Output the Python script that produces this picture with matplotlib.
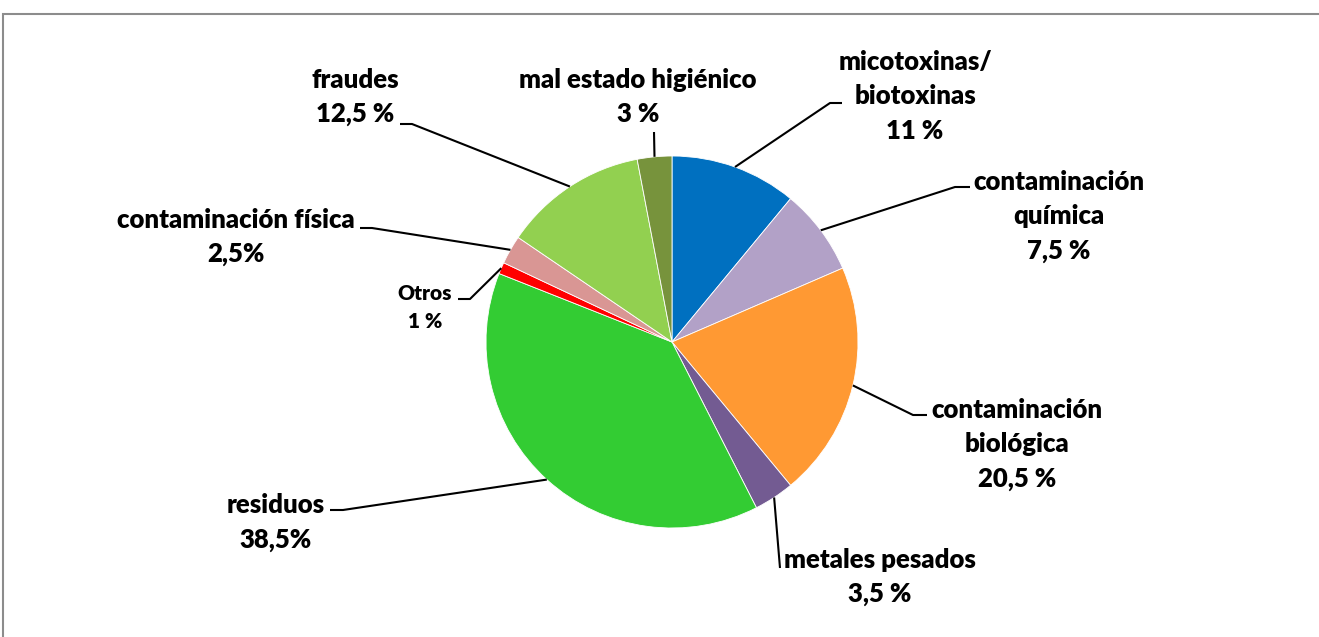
import numpy as np
import matplotlib.pyplot as plt
from matplotlib.patches import Rectangle

# Datos del gráfico (porcentajes, en sentido horario desde arriba)
categorias = ['micotoxinas/\nbiotoxinas', 'contaminación\nquímica', 'contaminación\nbiológica',
              'metales pesados', 'residuos', 'Otros', 'contaminación física',
              'fraudes', 'mal estado higiénico']
valores = [11, 7.5, 20.5, 3.5, 38.5, 1, 2.5, 12.5, 3]
etiquetas_pct = ['11 %', '7,5 %', '20,5 %', '3,5 %', '38,5%', '1 %', '2,5%', '12,5 %', '3 %']
colores = ['#0070C0', '#B2A1C7', '#FF9933', '#735B92', '#33CC33',
           '#FF0000', '#D99694', '#92D050', '#77933C']

W, H = 1319, 637
fig = plt.figure(figsize=(W / 100, H / 100), dpi=100)
ax = fig.add_axes([0, 0, 1, 1])

def py(y):
    # coordenadas de pixel (y hacia abajo) -> datos (y hacia arriba)
    return H - y

cx, cy, r = 672, py(342), 186
wedges, _ = ax.pie(valores, colors=colores, startangle=90, counterclock=False,
                   center=(cx, cy), radius=r,
                   wedgeprops=dict(linewidth=0.6, edgecolor='white'))
ax.set_xlim(0, W)
ax.set_ylim(0, H)
ax.set_aspect('auto')
ax.axis('off')

# Marco del gráfico
ax.add_patch(Rectangle((3, -20), W + 20, py(14) + 20, fill=False,
                       edgecolor='#8c8c8c', linewidth=1.5, clip_on=False))

# Posición de los textos (centro x, y de la primera línea) y de las líneas guía
pos_texto = [(915, 62), (1059, 182), (1017, 410), (880, 560), (276, 505),
             (425, 293), (236, 220), (355, 80), (638, 80)]
codo = [(830, 103), (955, 187), (913, 415), (780, 568), (343, 510),
        (470, 299), (372, 228), (412, 124), (654, 132)]
fin = [(842, 103), (970, 187), (927, 415), (780, 568), (330, 510),
       (458, 299), (360, 228), (400, 124), (654, 132)]

acum = np.cumsum([0] + valores[:-1])
for i, (cat, pct) in enumerate(zip(categorias, etiquetas_pct)):
    ang = np.deg2rad(90 - 360 * (acum[i] + valores[i] / 2) / 100)
    ex, ey = cx + r * np.cos(ang), cy + r * np.sin(ang)
    xs = [ex, codo[i][0], fin[i][0]]
    ys = [ey, py(codo[i][1]), py(fin[i][1])]
    ax.plot(xs, ys, color='black', linewidth=1.5, solid_capstyle='butt')

    tx, ty = pos_texto[i]
    lineas = (cat + '\n' + pct).split('\n')
    paso = 29 if cat == 'Otros' else 34.5
    size = 15 if cat == 'Otros' else 18.5
    for j, ln in enumerate(lineas):
        ax.text(tx, py(ty + j * paso), ln, ha='center', va='center',
                fontsize=size, fontweight='heavy', family=['Lato', 'DejaVu Sans'],
                color='black')

fig.savefig('out.png', dpi=100)
